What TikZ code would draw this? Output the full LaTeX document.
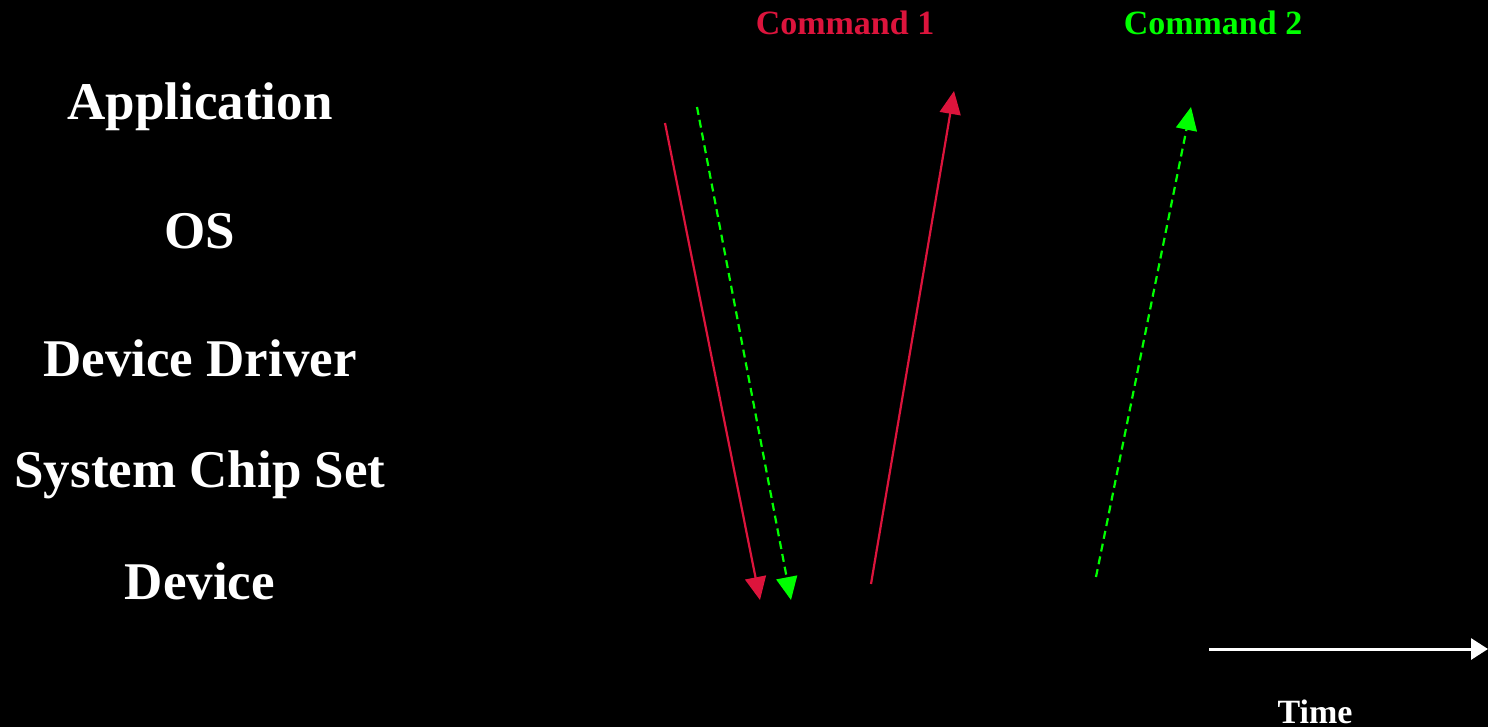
\documentclass[tikz,border=0pt]{standalone}
\usepackage{fontspec}
\setmainfont{Liberation Serif}
\usetikzlibrary{arrows.meta}
\definecolor{cmdred}{HTML}{DC143C}
\definecolor{cmdgreen}{HTML}{00FF00}
\tikzset{
  layer/.style={text=white, font=\bfseries\fontsize{53}{60}\selectfont, anchor=base, inner sep=0pt},
  cmdlabel/.style={font=\bfseries\fontsize{34}{40}\selectfont, anchor=base, inner sep=0pt},
  flow/.style={line width=2.2pt, -{Triangle[length=23pt,width=21pt]}},
  dashflow/.style={flow, dash pattern=on 8pt off 5pt},
  timeflow/.style={line width=3pt, -{Triangle[length=17pt,width=21pt]}},
}
\begin{document}
\begin{tikzpicture}[x=1pt,y=-1pt]
\fill[black] (0,0) rectangle (1488,727);
\useasboundingbox (0,0) rectangle (1488,727);
\node[layer] (app) at (200,120) {Application};
\node[layer] (os) at (200,249) {OS};
\node[layer] (dd) at (200,376) {Device Driver};
\node[layer] (chip) at (200,487) {System Chip Set};
\node[layer] (dev) at (200,599) {Device};
\node[cmdlabel, text=cmdred] (c1) at (845,35) {Command 1};
\node[cmdlabel, text=cmdgreen] (c2) at (1213,35) {Command 2};
\node[cmdlabel, text=white] (time) at (1315,723) {Time};
\coordinate (r1s) at (665,123);
\coordinate (r1e) at (760,600);
\coordinate (g1s) at (697,107);
\coordinate (g1e) at (791,600);
\coordinate (r2s) at (871,584);
\coordinate (r2e) at (954,91);
\coordinate (g2s) at (1096,577);
\coordinate (g2e) at (1191,107);
\coordinate (ts) at (1209,649);
\coordinate (te) at (1488,649);
\draw[flow, cmdred] (r1s) -- (r1e);
\draw[dashflow, cmdgreen] (g1s) -- (g1e);
\draw[flow, cmdred] (r2s) -- (r2e);
\draw[dashflow, cmdgreen] (g2s) -- (g2e);
\draw[timeflow, white] (ts) -- (te);
\end{tikzpicture}
\end{document}
